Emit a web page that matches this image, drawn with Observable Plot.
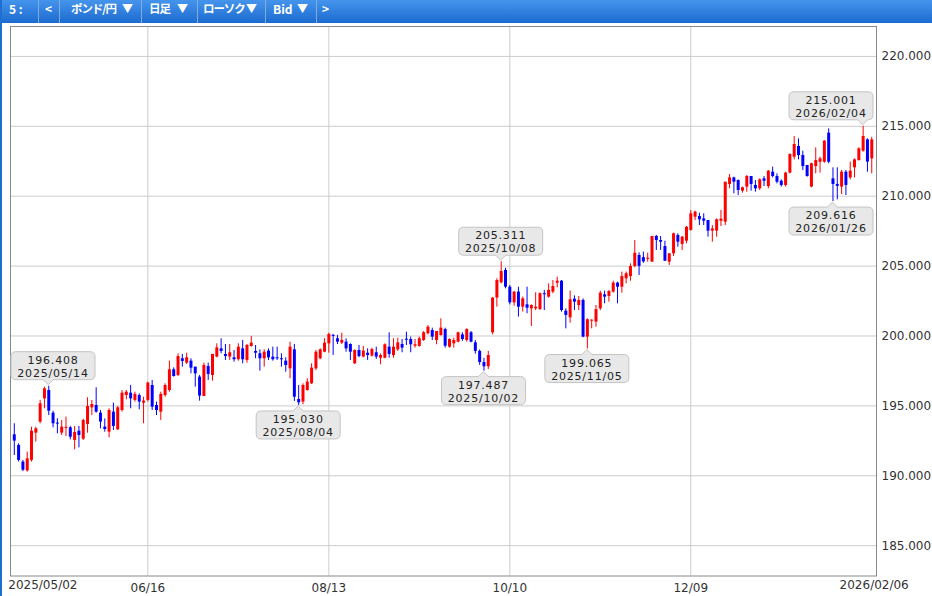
<!DOCTYPE html>
<html><head><meta charset="utf-8">
<script src="https://cdn.jsdelivr.net/npm/d3@7"></script>
<script src="https://cdn.jsdelivr.net/npm/@observablehq/plot@0.6"></script>
<style>
html,body{margin:0;padding:0;background:#fff;}
body{width:932px;height:596px;overflow:hidden;position:relative;}
#bar{position:absolute;left:0;top:0;width:932px;height:23px;background:linear-gradient(#4594ec,#1c6bd0);}
#bar span{position:absolute;top:0;line-height:26px;height:23px;color:#fff;font:bold 12px "Noto Sans CJK JP","DejaVu Sans",sans-serif;white-space:pre;}
#bar span.j{font-size:11.5px;letter-spacing:-1.1px;}
#bar span.t{font-size:11px;}
#bar i{position:absolute;top:0;width:1px;height:23px;background:#83acdc;}
#edge{position:absolute;left:0;top:0;width:2px;height:596px;background:#1f6fd1;}
#chart{position:absolute;left:0;top:25px;}
</style></head>
<body>
<div id="bar">
<span style="left:9px">5 :</span><i style="left:38px"></i>
<span style="left:45px">&lt;</span><i style="left:59px"></i>
<span class="j" style="left:71px">ポンド/円</span><span class="t" style="left:122px">▼</span><i style="left:141px"></i>
<span class="j" style="left:149px">日足</span><span class="t" style="left:177px">▼</span><i style="left:197px"></i>
<span class="j" style="left:203px">ローソク</span><span class="t" style="left:246px">▼</span><i style="left:265px"></i>
<span style="left:273px">Bid</span><span class="t" style="left:297px">▼</span><i style="left:316px"></i>
<span style="left:322px">&gt;</span>
</div>
<div id="edge"></div>
<div id="chart"></div>
<script>
// GBP/JPY daily candles, 2025/05/02 .. 2026/02/06 (index 0..199)
const open = [192.93,192.17,190.98,190.35,191.10,193.05,193.84,195.50,196.10,194.48,193.76,193.05,193.40,193.43,192.53,193.19,192.62,193.67,194.86,195.03,
194.48,193.48,193.12,194.55,193.29,194.67,195.74,195.91,195.39,195.74,195.19,195.39,196.46,195.03,194.55,195.74,196.10,197.58,197.17,198.37,
198.06,198.20,197.77,197.06,195.67,197.82,197.17,198.49,199.08,198.68,198.49,198.44,198.30,199.08,198.25,199.25,198.89,198.73,198.37,198.92,
198.49,198.44,198.37,198.20,197.65,199.01,195.46,195.27,196.10,196.58,197.65,198.37,198.84,199.44,200.04,199.80,199.49,199.56,199.39,198.01,
198.96,198.49,198.77,198.56,198.80,198.41,198.41,199.20,198.60,199.01,199.39,199.77,199.75,199.27,199.25,199.68,200.16,200.39,199.68,200.03,
200.46,199.20,199.44,199.56,200.08,199.68,200.23,199.51,198.90,198.10,197.80,200.23,202.71,203.80,204.69,203.49,202.37,203.14,202.06,202.23,
201.94,201.94,201.89,203.02,202.78,203.14,203.78,203.92,201.78,201.30,202.63,202.18,202.54,199.92,201.06,200.99,201.94,202.94,202.83,203.14,
203.78,203.49,204.09,204.25,204.97,205.76,205.60,205.50,205.28,207.12,206.83,206.40,205.28,205.88,207.19,206.55,206.78,207.55,208.50,208.55,
208.38,208.26,207.50,207.50,208.21,208.14,210.84,211.31,211.12,210.36,210.65,211.41,210.77,210.53,211.24,210.69,211.72,211.41,211.07,210.77,
211.65,212.79,213.56,212.91,212.20,210.65,212.12,212.43,212.43,214.51,211.24,210.84,210.65,211.72,211.31,212.03,212.55,213.22,214.03,212.67];
const high = [193.72,192.29,191.10,191.69,193.48,193.48,195.39,196.34,196.408,194.62,194.08,193.96,194.20,193.53,193.53,193.53,194.05,195.58,195.39,196.29,
194.67,194.07,194.79,195.20,194.96,196.10,196.10,196.46,195.98,195.86,195.62,196.70,196.82,195.27,195.98,196.58,198.20,197.72,198.72,198.68,
198.77,198.37,197.77,197.18,198.06,198.06,198.68,199.44,199.80,199.39,199.39,198.96,199.44,199.68,199.39,199.97,199.32,199.01,199.01,199.08,
199.20,199.20,198.73,198.44,199.56,199.39,196.46,196.58,196.94,198.01,198.96,199.08,199.80,200.20,200.11,200.04,200.20,199.80,199.44,199.01,
199.32,199.25,199.08,199.13,199.20,198.72,199.44,200.23,199.80,199.84,199.75,200.27,199.92,199.75,199.92,200.32,200.75,200.56,200.32,201.23,
200.56,199.80,199.84,200.27,200.23,200.51,200.32,199.68,199.00,198.40,198.90,202.75,204.09,205.311,204.85,203.61,203.18,203.49,202.78,203.49,
202.23,203.09,203.09,203.26,203.73,203.97,204.21,203.97,201.94,203.21,202.87,202.83,202.66,201.23,201.16,202.18,203.21,203.21,203.25,203.92,
203.85,204.57,204.57,205.16,206.83,205.95,206.00,205.92,207.12,207.19,207.12,206.78,205.88,207.36,207.31,207.12,207.83,208.98,208.93,208.79,
208.74,208.26,207.90,208.38,208.98,211.00,211.55,211.36,211.17,210.65,211.48,211.41,211.12,211.24,211.41,211.84,212.08,211.60,211.17,211.72,
213.03,214.27,214.10,213.22,212.20,212.36,213.46,212.79,213.98,214.82,212.03,212.03,211.84,211.84,212.44,212.67,213.46,215.001,214.10,214.22];
const low = [191.45,190.98,190.30,190.26,190.98,192.41,193.72,194.79,194.31,193.43,193.00,192.88,192.81,192.57,191.86,192.00,192.53,193.05,194.31,194.48,
193.36,193.12,192.71,193.24,193.24,194.55,195.43,194.79,195.27,194.72,193.72,195.27,194.67,194.31,193.96,195.62,195.98,197.06,197.10,197.77,
197.96,197.29,196.34,195.34,195.67,196.82,196.77,198.44,198.73,198.25,198.25,198.13,198.20,198.01,198.06,199.20,198.37,197.49,197.77,198.25,
198.20,198.25,197.77,197.41,196.94,195.32,195.03,195.08,196.06,196.53,197.53,198.30,198.80,198.77,198.61,199.39,199.39,198.84,198.25,197.96,
198.44,198.44,198.25,198.49,198.32,197.94,198.37,198.41,198.41,198.89,198.80,199.32,198.80,199.13,199.20,199.61,200.08,199.68,199.37,199.99,
199.13,199.13,199.13,199.51,199.61,199.56,199.51,198.70,197.90,197.487,197.60,200.08,202.06,203.73,203.37,202.23,202.13,201.35,201.71,201.59,
200.68,201.82,201.82,201.82,202.71,203.02,203.44,201.70,200.51,200.92,201.82,201.82,199.87,199.065,200.51,200.63,201.82,202.30,202.42,203.06,
202.30,203.06,203.73,203.92,204.88,204.33,205.20,205.28,205.28,206.12,206.12,205.35,205.04,205.69,206.35,206.12,206.59,207.50,208.26,207.90,
207.90,207.07,206.71,207.07,207.83,207.90,210.53,210.17,210.05,210.22,210.29,210.36,210.29,210.41,210.69,210.53,211.31,210.88,210.65,210.65,
211.60,212.60,212.60,211.84,211.36,210.60,211.60,211.65,212.36,212.32,209.616,209.74,210.12,210.05,211.17,211.31,212.51,213.15,211.72,211.60];
const close = [192.48,191.10,190.40,191.21,193.19,193.36,195.15,196.22,194.62,193.72,193.70,193.48,193.45,192.76,193.10,192.88,193.96,194.96,195.10,194.55,
193.84,193.31,194.67,193.53,194.86,195.91,195.98,195.50,195.82,195.27,195.34,196.63,194.91,194.67,195.82,196.46,197.58,197.10,198.53,198.18,
198.44,197.70,197.29,195.70,197.89,197.25,198.68,199.15,198.89,198.53,198.80,198.30,199.20,198.30,199.32,199.49,198.77,198.37,198.84,198.44,
198.30,198.37,198.30,197.89,199.20,195.62,195.22,196.46,196.70,197.70,198.84,199.01,199.49,200.11,199.97,199.56,199.68,199.08,198.84,198.96,
198.53,198.92,198.60,199.03,198.49,198.60,199.37,198.68,199.20,199.51,199.13,199.70,199.37,199.37,199.80,200.23,200.63,199.92,200.32,200.56,
199.27,199.75,199.68,200.23,199.75,200.46,199.56,198.90,198.10,197.80,198.60,202.71,203.97,204.61,203.49,202.37,203.14,202.06,202.66,201.99,
202.18,202.06,203.02,202.95,203.26,203.54,203.92,201.82,201.47,202.59,202.42,202.54,199.92,201.16,201.13,201.89,203.06,202.78,203.18,203.78,
203.49,204.25,204.45,204.97,205.92,204.98,205.30,205.55,207.12,206.83,206.71,205.35,205.88,207.31,206.71,207.07,207.78,208.74,208.86,208.31,
208.21,207.50,207.66,208.31,208.36,211.00,211.31,211.00,210.41,210.60,211.41,210.84,210.53,211.17,211.07,211.79,211.41,211.00,210.77,211.65,
212.98,213.70,212.91,212.12,211.41,212.32,212.55,212.67,213.94,212.43,210.84,210.70,211.72,210.77,211.79,212.60,213.39,214.27,212.44,214.03];

// axis ticks
const yTicks = [185,190,195,200,205,210,215,220];
const xTickIndex = [31,73,115,157];
const xTickLabels = ["06/16","08/13","10/10","12/09"];
const firstLabel = "2025/05/02", lastLabel = "2026/02/06";

// high / low callouts
const annIndex = [8,66,109,113,133,197,190];
const annValue = [196.408,195.030,197.487,205.311,199.065,215.001,209.616];
const annDate  = ["2025/05/14","2025/08/04","2025/10/02","2025/10/08","2025/11/05","2026/02/04","2026/01/26"];
const annSide  = ["above","below","below","above","below","above","below"];

const UP = "#ff0000", DOWN = "#0000ff";
const candles = open.map((o,i)=>{
  const c = close[i];
  let top = Math.max(o,c), bot = Math.min(o,c);
  if (top-bot < 0.075){ const m=(top+bot)/2; top=m+0.0375; bot=m-0.0375; }
  return {i, open:o, high:high[i], low:low[i], close:c, top, bot, col: c>=o?UP:DOWN};
});

const FONT = '"DejaVu Sans", sans-serif';

function callouts(index, scales, values, dims){
  const g = d3.create("svg:g");
  const w = 84, h = 28, gap = 1, ph = 5, pw = 5;
  const left = dims.marginLeft + 1, right = dims.width - dims.marginRight - 3;
  annIndex.forEach((k,j)=>{
    const cx = scales.x(k), cy = scales.y(annValue[j]);
    const bx = Math.max(left, Math.min(right - w, cx - w/2));
    const above = annSide[j]==="above";
    const by = above ? cy - gap - ph - h : cy + gap + ph;
    const r = 5;
    let p;
    if (above){
      const tipY = cy - gap, baseY = by + h;
      p = `M${bx+r},${by} H${bx+w-r} Q${bx+w},${by} ${bx+w},${by+r} V${baseY-r} Q${bx+w},${baseY} ${bx+w-r},${baseY} H${cx+pw} L${cx},${tipY} L${cx-pw},${baseY} H${bx+r} Q${bx},${baseY} ${bx},${baseY-r} V${by+r} Q${bx},${by} ${bx+r},${by} Z`;
    } else {
      const tipY = cy + gap, baseY = by;
      p = `M${bx+r},${baseY} H${cx-pw} L${cx},${tipY} L${cx+pw},${baseY} H${bx+w-r} Q${bx+w},${baseY} ${bx+w},${baseY+r} V${by+h-r} Q${bx+w},${by+h} ${bx+w-r},${by+h} H${bx+r} Q${bx},${by+h} ${bx},${by+h-r} V${baseY+r} Q${bx},${baseY} ${bx+r},${baseY} Z`;
    }
    g.append("path").attr("d",p).attr("fill","#e8e8e8").attr("stroke","#c4c4c4").attr("stroke-width",1);
    g.append("text").attr("font-family",FONT).attr("font-size",11).attr("letter-spacing",0.8).attr("fill","#222")
      .attr("text-anchor","middle").attr("x",bx+w/2).attr("y",by+12).text(annValue[j].toFixed(3));
    g.append("text").attr("font-family",FONT).attr("font-size",11).attr("letter-spacing",0.8).attr("fill","#222")
      .attr("text-anchor","middle").attr("x",bx+w/2).attr("y",by+25).text(annDate[j]);
  });
  return g.node();
}

const chart = Plot.plot({
  width: 932, height: 571,
  marginTop: 1, marginBottom: 20.5, marginLeft: 10, marginRight: 56,
  style: {fontFamily: FONT, fontSize: "12px", color: "#333", background: "transparent"},
  x: {domain: [-0.88, 200.1], ticks: xTickIndex, tickFormat: d => xTickLabels[xTickIndex.indexOf(d)], tickSize: 0, tickPadding: 7, label: null},
  y: {domain: [182.83, 222.14], axis: "right", ticks: yTicks, tickFormat: d => d.toFixed(3), tickSize: 0, tickPadding: 5, label: null},
  marks: [
    Plot.ruleY(yTicks, {stroke: "#cccccc"}),
    Plot.ruleX(xTickIndex, {stroke: "#cccccc"}),
    Plot.frame({stroke: "#888888"}),
    Plot.ruleX(candles, {x: "i", y1: "low", y2: "high", stroke: "col", strokeWidth: 1}),
    Plot.ruleX(candles, {x: "i", y1: "bot", y2: "top", stroke: "col", strokeWidth: 3}),
    Plot.text([0], {x: d => d, frameAnchor: "bottom", dy: 13, text: () => firstLabel, textAnchor: "start", dx: -6, fill: "#333"}),
    Plot.text([199], {x: d => d, frameAnchor: "bottom", dy: 13, text: () => lastLabel, textAnchor: "end", dx: 37, fill: "#333"}),
    callouts
  ]
});
document.getElementById("chart").appendChild(chart);
</script>
</body></html>
